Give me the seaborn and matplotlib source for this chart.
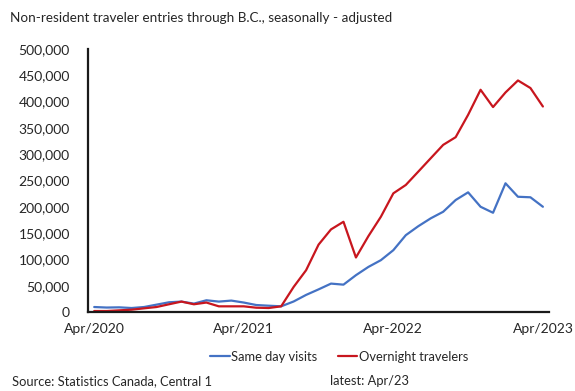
import numpy as np
import pandas as pd
import matplotlib
matplotlib.use('Agg')
import matplotlib.pyplot as plt
from matplotlib.ticker import FuncFormatter
import seaborn as sns

# monthly, Apr/2020 .. Apr/2023 (37 months)
months = pd.date_range('2020-04-01', '2023-04-01', freq='MS')
same_day = [9500, 8500, 8900, 7600, 9500, 14000, 18500, 19800, 16000, 22300,
            19800, 21700, 18000, 13300, 12000, 10800, 20000, 32500, 43000, 54000,
            52000, 70000, 85700, 98500, 117500, 146000, 163000, 178000, 190500, 212800,
            227400, 200000, 188600, 244600, 219000, 218000, 200000]
overnight = [1900, 1900, 3200, 4400, 7000, 9500, 14700, 19800, 14700, 18000,
             10800, 10800, 10800, 8200, 7600, 10800, 47600, 79400, 128000, 157000,
             171500, 103600, 144200, 181000, 225500, 241400, 266700, 292200, 317600, 332200,
             374700, 422300, 389400, 417200, 440000, 425600, 390500]
tick_pos = [0, 12, 24, 36]
tick_labels = ['Apr/2020', 'Apr/2021', 'Apr-2022', 'Apr/2023']

df = pd.DataFrame({'i': np.arange(len(months)), 'Same day visits': same_day,
                   'Overnight travelers': overnight})
long = df.melt(id_vars='i', var_name='series', value_name='entries')

sns.set_style('white')
plt.rcParams['font.family'] = ['Lato', 'DejaVu Sans']

fig = plt.figure(figsize=(5.75, 3.91), dpi=100)
ax = fig.add_axes([0.153, 0.202, 0.802, 0.673])

sns.lineplot(data=long, x='i', y='entries', hue='series',
             palette={'Same day visits': '#4472C4', 'Overnight travelers': '#C8161E'},
             linewidth=1.6, ax=ax, legend=False)

ax.set_xlim(-0.5, 36.5)
ax.set_ylim(0, 500000)
ax.set_yticks(np.arange(0, 500001, 50000))
ax.yaxis.set_major_formatter(FuncFormatter(lambda v, p: f'{int(v):,}'))
ax.set_xticks(tick_pos)
ax.set_xticklabels(tick_labels)
ax.set_xticks(np.arange(-0.5, 37, 1), minor=True)
ax.tick_params(axis='x', which='major', length=0, pad=8, labelsize=10)
ax.tick_params(axis='x', which='minor', length=4, width=1, direction='out', color='#222222')
ax.tick_params(axis='y', length=0, labelsize=10, pad=13)
ax.set_xlabel('')
ax.set_ylabel('')
for s in ['top', 'right']:
    ax.spines[s].set_visible(False)
for s in ['left', 'bottom']:
    ax.spines[s].set_color('#1a1a1a')
    ax.spines[s].set_linewidth(1.6)

handles = [plt.Line2D([], [], color='#4472C4', lw=1.6),
           plt.Line2D([], [], color='#C8161E', lw=1.6)]
fig.legend(handles, ['Same day visits', 'Overnight travelers'], loc='center',
           bbox_to_anchor=(0.59, 0.087), ncol=2, frameon=False, fontsize=9.3,
           handlelength=1.5, handletextpad=0.1, columnspacing=1.6)

fig.text(0.017, 0.954, 'Non-resident traveler entries through B.C., seasonally - adjusted',
         fontsize=9.7, va='center', ha='left')
fig.text(0.02, 0.026, 'Source: Statistics Canada, Central 1', fontsize=9.3, va='center')
fig.text(0.574, 0.026, 'latest: Apr/23', fontsize=9.3, va='center')

fig.savefig('out.png', dpi=100)
